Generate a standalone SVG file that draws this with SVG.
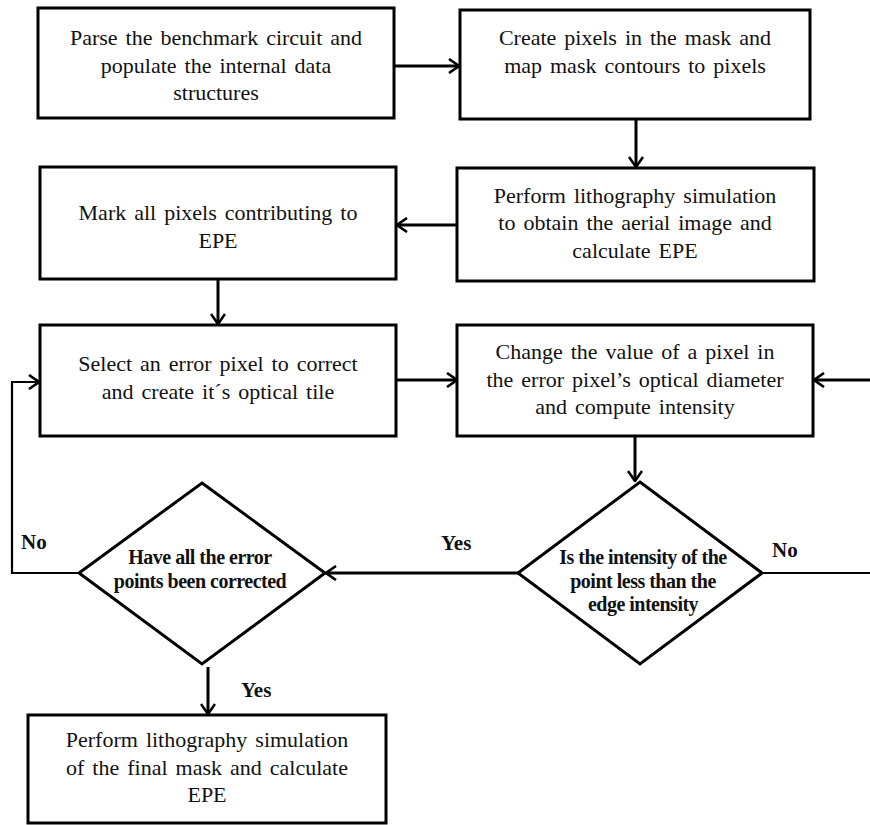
<svg xmlns="http://www.w3.org/2000/svg" width="870" height="825" viewBox="0 0 870 825">
  <style>
    .box { fill: #fff; stroke: #000; stroke-width: 3; }
    .dia { fill: #fff; stroke: #000; stroke-width: 3; stroke-linejoin: miter; }
    .t { font-family: "Liberation Serif", "Times New Roman", serif; font-size: 22px; fill: #111; text-anchor: middle; word-spacing: 2.5px; }
    .dt { font-family: "Liberation Serif", "Times New Roman", serif; font-size: 20px; font-weight: bold; fill: #111; text-anchor: middle; letter-spacing: -0.5px; }
    .lbl { font-family: "Liberation Serif", "Times New Roman", serif; font-size: 21px; font-weight: bold; fill: #111; }
    .c { fill: none; stroke: #000; stroke-width: 3; }
    .thin { fill: none; stroke: #000; stroke-width: 2.2; }
  </style>
  <defs>
    <marker id="arr" viewBox="0 0 12 16" refX="11" refY="8" markerWidth="12" markerHeight="16" markerUnits="userSpaceOnUse" orient="auto">
      <path d="M1,1 L11,8 L1,15" fill="none" stroke="#000" stroke-width="2.6"/>
    </marker>
  </defs>
  <rect width="870" height="825" fill="#fff"/>

  <g id="connectors">
    <line class="c" x1="394" y1="66" x2="459" y2="66" marker-end="url(#arr)"/>
    <line class="c" x1="636" y1="119" x2="636" y2="167" marker-end="url(#arr)"/>
    <line class="c" x1="457" y1="225" x2="397" y2="225" marker-end="url(#arr)"/>
    <line class="c" x1="218" y1="279" x2="218" y2="324" marker-end="url(#arr)"/>
    <line class="c" x1="396" y1="380" x2="457" y2="380" marker-end="url(#arr)"/>
    <line class="c" x1="870" y1="380" x2="814" y2="380" marker-end="url(#arr)"/>
    <line class="c" x1="635" y1="436" x2="635" y2="481" marker-end="url(#arr)"/>
    <line class="thin" x1="762" y1="573" x2="870" y2="573"/>
    <line class="c" x1="518" y1="573" x2="326" y2="573" marker-end="url(#arr)"/>
    <polyline class="thin" points="79,573 12,573 12,382 39,382" marker-end="url(#arr)"/>
    <line class="c" x1="208" y1="667" x2="208" y2="714" marker-end="url(#arr)"/>
    <text class="lbl" x="441" y="550">Yes</text>
    <text class="lbl" x="772" y="557">No</text>
    <text class="lbl" x="21" y="549">No</text>
    <text class="lbl" x="241" y="697">Yes</text>
  </g>

  <g id="parse">
    <rect class="box" x="38" y="8" width="356" height="110"/>
    <text class="t" x="216" y="45">Parse the benchmark circuit and</text>
    <text class="t" x="216" y="73">populate the internal data</text>
    <text class="t" x="216" y="100">structures</text>
  </g>

  <g id="create-pixels">
    <rect class="box" x="460" y="10" width="350" height="109"/>
    <text class="t" x="635" y="45">Create pixels in the mask and</text>
    <text class="t" x="635" y="73">map mask contours to pixels</text>
  </g>

  <g id="litho-sim">
    <rect class="box" x="457" y="168" width="357" height="113"/>
    <text class="t" x="635" y="203">Perform lithography simulation</text>
    <text class="t" x="635" y="230">to obtain the aerial image and</text>
    <text class="t" x="635" y="258">calculate EPE</text>
  </g>

  <g id="mark-pixels">
    <rect class="box" x="40" y="167" width="356" height="112"/>
    <text class="t" x="218" y="220">Mark all pixels contributing to</text>
    <text class="t" x="218" y="248">EPE</text>
  </g>

  <g id="select-pixel">
    <rect class="box" x="40" y="325" width="356" height="111"/>
    <text class="t" x="218" y="371">Select an error pixel to correct</text>
    <text class="t" x="218" y="399">and create it´s optical tile</text>
  </g>

  <g id="change-value">
    <rect class="box" x="457" y="325" width="356" height="111"/>
    <text class="t" x="635" y="359">Change the value of a pixel in</text>
    <text class="t" x="635" y="387">the error pixel’s optical diameter</text>
    <text class="t" x="635" y="414">and compute intensity</text>
  </g>

  <g id="intensity-check">
    <polygon class="dia" points="640,482 762,573 640,664 518,573"/>
    <text class="dt" x="643" y="564">Is the intensity of the</text>
    <text class="dt" x="643" y="588">point less than the</text>
    <text class="dt" x="643" y="611">edge intensity</text>
  </g>

  <g id="all-corrected">
    <polygon class="dia" points="202,483 325,573 202,664 79,573"/>
    <text class="dt" x="200" y="564">Have all the error</text>
    <text class="dt" x="200" y="588">points been corrected</text>
  </g>

  <g id="final-sim">
    <rect class="box" x="28" y="715" width="358" height="108"/>
    <text class="t" x="207" y="747">Perform lithography simulation</text>
    <text class="t" x="207" y="775">of the final mask and calculate</text>
    <text class="t" x="207" y="802">EPE</text>
  </g>
</svg>
